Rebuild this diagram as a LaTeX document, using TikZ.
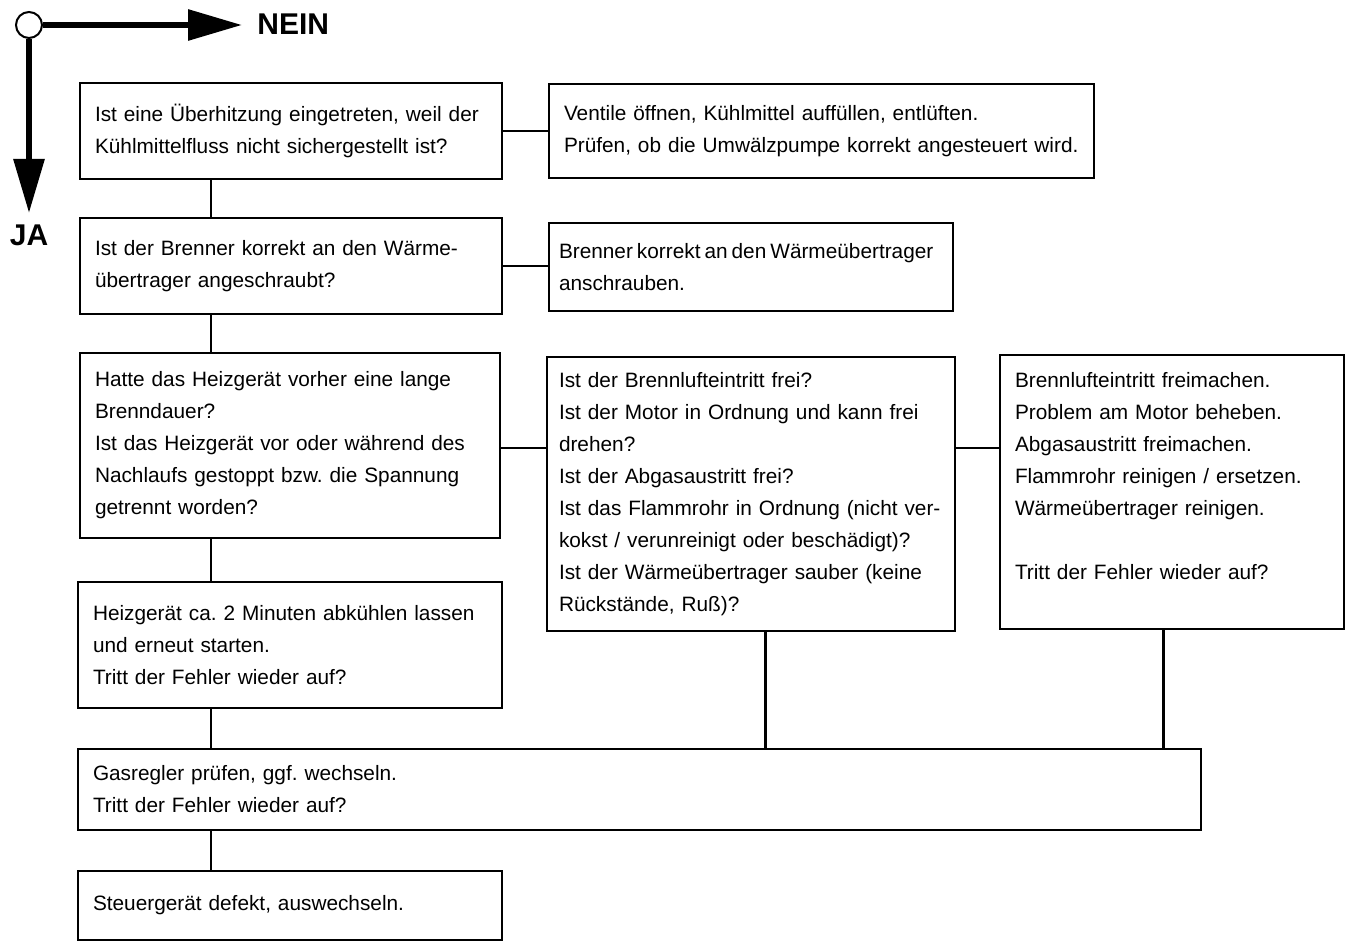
\documentclass[tikz,border=0pt]{standalone}
\usepackage{fontspec}
\setmainfont{Liberation Sans}
\usetikzlibrary{positioning,arrows.meta}
\frenchspacing

\begin{document}
\begin{tikzpicture}[
    x=0.5pt, y=-0.5pt,
    kasten/.style={
        draw,
        line width=1pt,
        anchor=north west,
        align=left,
        inner xsep=7.5pt,
        inner ysep=0pt,
        font=\fontsize{10.4}{16}\selectfont
    },
    linie/.style={line width=1pt},
    pfeil/.style={line width=3pt, -{Triangle[length=27pt,width=15pt]}},
    antwort/.style={font=\fontsize{15}{18}\selectfont\bfseries, inner sep=0pt}
]

\useasboundingbox (0,0) rectangle (1351,941);

% Legende
\node[draw, circle, line width=1pt, minimum size=13pt, inner sep=0pt] (kreis) at (29,25) {};
\coordinate (neinende) at (242,25);
\coordinate (jaende) at (29,213);
\draw[pfeil] (kreis.east) -- (neinende);
\draw[pfeil] (kreis.south) -- (jaende);
\node[antwort, anchor=west] (nein) at (257,24) {NEIN};
\node[antwort] (ja) at (29,235) {JA};

% Kaesten
\node[kasten, text width=196pt, minimum height=48pt] (ueberhitzung) at (79,82)
{Ist eine Überhitzung eingetreten, weil der\\ Kühlmittelfluss nicht sichergestellt ist?};

\node[kasten, text width=257.5pt, minimum height=47pt] (kuehlmittel) at (548,83)
{Ventile öffnen, Kühlmittel auffüllen, entlüften.\\ Prüfen, ob die Umwälzpumpe korrekt angesteuert wird.};

\node[kasten, text width=196pt, minimum height=48pt] (brenner) at (79,217)
{Ist der Brenner korrekt an den Wärme-\\ übertrager angeschraubt?};

\node[kasten, inner xsep=5pt, text width=192pt, minimum height=44pt] (anschrauben) at (548,222)
{\spaceskip=2pt\relax Brenner korrekt an den Wärmeübertrager\\ anschrauben.};

\node[kasten, text width=195pt, minimum height=92.5pt] (brenndauer) at (79,352)
{Hatte das Heizgerät vorher eine lange\\ Brenndauer?\\ Ist das Heizgerät vor oder während des\\
 Nachlaufs gestoppt bzw. die Spannung\\ getrennt worden?};

\node[kasten, inner xsep=6pt, text width=192pt, minimum height=137pt] (pruefung) at (546,356)
{Ist der Brennlufteintritt frei?\\ Ist der Motor in Ordnung und kann frei\\ drehen?\\
 Ist der Abgasaustritt frei?\\ \mbox{Ist das Flammrohr in Ordnung (nicht ver-}\\
 kokst / verunreinigt oder beschädigt)?\\ Ist der Wärmeübertrager sauber (keine\\
 Rückstände, Ruß)?};

\node[kasten, text width=157pt, minimum height=137pt] (abhilfe) at (999,354)
{Brennlufteintritt freimachen.\\ Problem am Motor beheben.\\ Abgasaustritt freimachen.\\
 Flammrohr reinigen / ersetzen.\\ Wärmeübertrager reinigen.\\ \mbox{}\\
 Tritt der Fehler wieder auf?\\ \mbox{}};

\node[kasten, text width=197pt, minimum height=63pt] (abkuehlen) at (77,581)
{Heizgerät ca. 2 Minuten abkühlen lassen\\ und erneut starten.\\ Tritt der Fehler wieder auf?};

\node[kasten, text width=546.5pt, minimum height=40.5pt] (gasregler) at (77,748)
{Gasregler prüfen, ggf. wechseln.\\ Tritt der Fehler wieder auf?};

\node[kasten, text width=197pt, minimum height=34.5pt] (steuergeraet) at (77,870)
{Steuergerät defekt, auswechseln.};

% Verbindungen
\coordinate (achse) at (211,0);
\coordinate (achsepruefung) at (765,0);
\coordinate (achseabhilfe) at (1163,0);

\draw[linie] (ueberhitzung.east) -- (ueberhitzung.east -| kuehlmittel.west);
\draw[linie] (brenner.east) -- (brenner.east -| anschrauben.west);
\draw[linie] (brenndauer.east |- 0,448) -- (pruefung.west |- 0,448);
\draw[linie] (pruefung.east |- 0,448) -- (abhilfe.west |- 0,448);

\draw[linie] (ueberhitzung.south -| achse) -- (brenner.north -| achse);
\draw[linie] (brenner.south -| achse) -- (brenndauer.north -| achse);
\draw[linie] (brenndauer.south -| achse) -- (abkuehlen.north -| achse);
\draw[linie] (abkuehlen.south -| achse) -- (gasregler.north -| achse);
\draw[linie] (gasregler.south -| achse) -- (steuergeraet.north -| achse);

\draw[line width=1.5pt] (pruefung.south -| achsepruefung) -- (gasregler.north -| achsepruefung);
\draw[line width=1.5pt] (abhilfe.south -| achseabhilfe) -- (gasregler.north -| achseabhilfe);

\end{tikzpicture}
\end{document}
